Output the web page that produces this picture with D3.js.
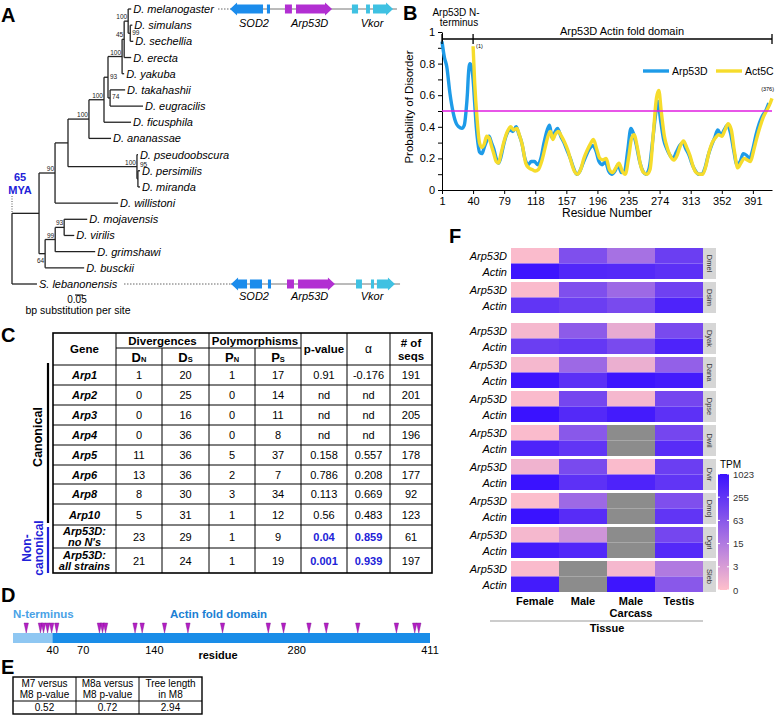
<!DOCTYPE html>
<html>
<head>
<meta charset="utf-8">
<script src="https://cdn.jsdelivr.net/npm/d3@7"></script>
<style>
  body { margin: 0; background: #fff; }
  text { font-family: "Liberation Sans", Arial, sans-serif; }
</style>
</head>
<body>
<svg id="fig" width="775" height="723"></svg>
<script>
// ---------- data ----------
// phylogeny: [id, parent, branch length (subst/site), bootstrap]
const treeNodes = [
  ["root", null, 0, ""],
  ["dros", "root", 0.169, ""],
  ["soph", "dros", 0.100, "90"],
  ["n68", "soph", 0.081, ""],
  ["melgrp", "n68", 0.131, "100"],
  ["n104", "melgrp", 0.094, "100"],
  ["n108", "n104", 0.025, "93"],
  ["n122", "n108", 0.088, "100"],
  ["n45", "n122", 0.013, "45"],
  ["n128", "n45", 0.025, "100"],
  ["D. melanogaster", "n128", 0.019, ""],
  ["n99", "n128", 0.013, "99"],
  ["D. simulans", "n99", 0.013, ""],
  ["D. sechellia", "n99", 0.019, ""],
  ["D. erecta", "n45", 0.044, ""],
  ["D. yakuba", "n122", 0.013, ""],
  ["n74", "n108", 0.013, "74"],
  ["D. takahashii", "n74", 0.094, ""],
  ["D. eugracilis", "n74", 0.206, ""],
  ["D. ficusphila", "n104", 0.169, ""],
  ["D. ananassae", "melgrp", 0.138, ""],
  ["obs", "n68", 0.431, "100"],
  ["D. pseudoobscura", "obs", 0.006, ""],
  ["n95", "obs", 0.006, "95"],
  ["D. persimilis", "n95", 0.013, ""],
  ["D. miranda", "n95", 0.013, ""],
  ["D. willistoni", "soph", 0.394, ""],
  ["n64", "dros", 0.038, "64"],
  ["n99b", "n64", 0.063, "99"],
  ["n93b", "n99b", 0.056, "93"],
  ["D. mojavensis", "n93b", 0.144, ""],
  ["D. virilis", "n93b", 0.063, ""],
  ["D. grimshawi", "n99b", 0.25, ""],
  ["D. busckii", "n64", 0.244, ""],
  ["S. lebanonensis", "root", 0.156, ""]
];
const supportSide = { n108: "r", n99: "r", n74: "r", n95: "ar", n64: "bl" };

// gene neighbourhood (kb), [start, end, gene, shape]
const melGenes = [
  [0.12, 2.06, "SOD2", "left"], [2.29, 2.47, "SOD2", "box"],
  [3.35, 3.76, "Arp53D", "box"], [4.0, 6.12, "Arp53D", "right"],
  [7.29, 7.65, "Vkor", "box"], [8.12, 8.35, "Vkor", "box"], [8.53, 9.71, "Vkor", "right"]
];
const lebGenes = [
  [0.18, 1.12, "SOD2", "left"], [1.29, 2.0, "SOD2", "box"], [2.35, 2.53, "SOD2", "box"],
  [3.47, 3.88, "Arp53D", "box"], [4.12, 6.29, "Arp53D", "right"],
  [7.53, 7.88, "Vkor", "box"], [8.41, 8.59, "Vkor", "box"], [8.76, 9.82, "Vkor", "right"]
];
const geneLabels = [["SOD2", 1.53], ["Arp53D", 4.8], ["Vkor", 8.47]];

// disorder probability [residue, value]
const arp53dDisorder = [[1,.94],[4,.84],[7,.78],[11,.61],[15,.49],[19,.42],[22,.40],[26,.39],[29,.41],[31,.49],[33,.62],[34,.72],[36,.80],[38,.78],[40,.70],[42,.55],[44,.40],[46,.30],[48,.24],[51,.23],[54,.27],[57,.31],[60,.34],[63,.30],[66,.26],[69,.20],[72,.17],[75,.21],[78,.28],[82,.35],[86,.38],[90,.37],[94,.40],[97,.36],[101,.30],[105,.20],[109,.16],[113,.18],[117,.18],[121,.16],[125,.20],[129,.30],[133,.38],[136,.41],[139,.33],[142,.36],[146,.39],[150,.34],[154,.30],[158,.25],[162,.20],[166,.14],[170,.10],[174,.12],[178,.17],[182,.22],[186,.26],[190,.28],[194,.25],[198,.18],[202,.16],[206,.18],[210,.12],[214,.10],[218,.12],[222,.16],[226,.11],[230,.12],[234,.25],[238,.39],[241,.36],[245,.28],[249,.18],[253,.12],[257,.10],[261,.14],[265,.30],[269,.48],[272,.56],[275,.45],[279,.32],[283,.26],[287,.22],[291,.20],[295,.24],[299,.28],[303,.30],[307,.26],[311,.22],[315,.16],[319,.12],[323,.10],[327,.10],[331,.14],[335,.22],[339,.28],[343,.33],[347,.38],[351,.35],[355,.38],[359,.41],[363,.36],[367,.25],[371,.16],[375,.18],[379,.23],[383,.22],[387,.20],[391,.26],[395,.35],[399,.42],[403,.47],[407,.50],[411,.55]];
const act5cDisorder = [[40,.91],[42,.68],[45,.45],[48,.30],[51,.27],[54,.29],[57,.34],[60,.33],[63,.28],[66,.23],[69,.18],[72,.17],[75,.23],[79,.31],[83,.37],[87,.40],[91,.38],[95,.39],[98,.35],[102,.28],[106,.17],[110,.14],[114,.13],[118,.12],[122,.13],[126,.18],[130,.26],[134,.34],[137,.37],[140,.32],[143,.35],[147,.37],[151,.34],[155,.30],[159,.25],[163,.18],[167,.12],[171,.10],[175,.13],[179,.20],[183,.25],[187,.29],[191,.32],[195,.26],[199,.20],[203,.19],[207,.20],[211,.13],[215,.11],[219,.14],[223,.17],[227,.12],[231,.10],[235,.20],[239,.33],[242,.35],[246,.27],[250,.16],[254,.11],[258,.10],[262,.13],[266,.35],[270,.58],[273,.63],[276,.50],[280,.34],[284,.26],[288,.21],[292,.19],[296,.22],[300,.28],[304,.31],[308,.27],[312,.22],[316,.15],[320,.11],[324,.10],[328,.10],[332,.15],[336,.24],[340,.30],[344,.33],[348,.35],[352,.34],[356,.38],[360,.42],[364,.38],[368,.24],[372,.14],[376,.17],[380,.20],[384,.19],[388,.18],[392,.25],[396,.33],[400,.40],[404,.46],[408,.50],[412,.54],[415,.58]];
const residueTicks = [1, 40, 79, 118, 157, 196, 235, 274, 313, 352, 391];

// McDonald-Kreitman table
const mkGenes = [["Arp1"],["Arp2"],["Arp3"],["Arp4"],["Arp5"],["Arp6"],["Arp8"],["Arp10"],["Arp53D:","no N's"],["Arp53D:","all strains"]];
const mkDN = [1, 0, 0, 0, 11, 13, 8, 5, 23, 21];
const mkDS = [20, 25, 16, 36, 36, 36, 30, 31, 29, 24];
const mkPN = [1, 0, 0, 0, 5, 2, 3, 1, 1, 1];
const mkPS = [17, 14, 11, 8, 37, 7, 34, 12, 9, 19];
const mkP = ["0.91", "nd", "nd", "nd", "0.158", "0.786", "0.113", "0.56", "0.04", "0.001"];
const mkAlpha = ["-0.176", "nd", "nd", "nd", "0.557", "0.208", "0.669", "0.483", "0.859", "0.939"];
const mkSeqs = [191, 201, 205, 196, 178, 177, 92, 123, 61, 197];

// selected sites along Arp53D (residue)
const selectedSites = [14, 28, 31, 35, 39, 44, 86, 89, 92, 121, 128, 150, 173, 207, 252, 267, 292, 309, 340, 378, 396, 400];
const domainTicks = [40, 70, 140, 280, 411];

// PAML
const pamlHeads = [["M7 versus", "M8 p-value"], ["M8a versus", "M8 p-value"], ["Tree length", "in M8"]];
const pamlVals = ["0.52", "0.72", "2.94"];

// expression (TPM), null = no data
const species = ["Dmel", "Dsim", "Dyak", "Dana", "Dpse", "Dwil", "Dvir", "Dmoj", "Dgri", "Sleb"];
const tissues = ["Female", "Male", "Male Carcass", "Testis"];
const arp53dTPM = [
  [0.2, 90, 22, 180], [0.2, 90, 31, 157], [0.4, 55, 1.3, 110], [0.4, 31, 1, 44], [0.2, 127, 0.4, 127],
  [0.2, 63, null, 127], [0.7, 110, 0.2, 180], [0.1, 31, null, 90], [0.4, 4.7, null, 127], [0.2, null, 0.4, 15]];
const actinTPM = [
  [890, 445, 415, 314], [255, 180, 110, 511], [180, 222, 110, 511], [890, 314, 890, 723], [1023, 415, 723, 293],
  [511, 255, null, 361], [1023, 293, 511, 255], [1023, 361, null, 255], [723, 445, null, 415], [723, null, 890, 63]];
const tpmTicks = [0, 3, 15, 63, 255, 1023];

// ---------- drawing ----------
const svg = d3.select("#fig");
const blue = "#2121d8";

function panelLetter(t, x, y) {
  svg.append("text").attr("x", x).attr("y", y).attr("font-size", 20).attr("font-weight", "bold").text(t);
}
panelLetter("A", 1, 22); panelLetter("B", 403, 20); panelLetter("C", 1, 342);
panelLetter("D", 1, 602); panelLetter("E", 1, 674); panelLetter("F", 449, 243);

// ===== A: tree =====
const root = d3.stratify().id(d => d[0]).parentId(d => d[1])(treeNodes);
const xT = d3.scaleLinear().domain([0, 1]).range([12, 172]);
const leaves = root.leaves();
const yT = d3.scalePoint().domain(leaves.map(d => d.id)).range([9, 284]);
root.eachBefore(n => { n.depthLen = n.parent ? n.parent.depthLen + n.data[2] : 0; n.px = xT(n.depthLen); });
root.eachAfter(n => {
  n.py = n.children ? (n.children[0].py + n.children[n.children.length - 1].py) / 2 : yT(n.id);
});
const gA = svg.append("g").attr("stroke", "#222").attr("stroke-width", 1.3);
root.each(n => {
  if (n.parent) gA.append("line").attr("x1", n.parent.px).attr("x2", n.px).attr("y1", n.py).attr("y2", n.py);
  if (n.children) gA.append("line").attr("x1", n.px).attr("x2", n.px)
    .attr("y1", n.children[0].py).attr("y2", n.children[n.children.length - 1].py);
});
leaves.forEach(n => {
  svg.append("text").attr("x", n.px + 2).attr("y", n.py + 4).attr("font-size", 11)
    .attr("font-style", "italic").text(n.id);
});
root.descendants().filter(n => n.data[3]).forEach(n => {
  const side = supportSide[n.id] || "al";
  const t = svg.append("text").attr("font-size", 6.5).attr("fill", "#222").text(n.data[3]);
  if (side === "al") t.attr("x", n.px - 1).attr("y", n.py - 2).attr("text-anchor", "end");
  if (side === "r") t.attr("x", n.px + 2).attr("y", n.py + 1.5);
  if (side === "ar") t.attr("x", n.px + 2).attr("y", n.py - 12);
  if (side === "bl") t.attr("x", n.px - 1).attr("y", n.py + 9).attr("text-anchor", "end");
});
// 65 MYA
const rootY = root.children[0].py;
svg.append("line").attr("x1", root.px).attr("x2", root.px).attr("y1", 196).attr("y2", rootY)
  .attr("stroke", "#555").attr("stroke-dasharray", "1,1.5");
svg.append("text").attr("x", 20).attr("y", 181).attr("text-anchor", "middle").attr("font-size", 11)
  .attr("font-weight", "bold").attr("fill", blue).text("65");
svg.append("text").attr("x", 20).attr("y", 194).attr("text-anchor", "middle").attr("font-size", 11)
  .attr("font-weight", "bold").attr("fill", blue).text("MYA");
// scale bar
svg.append("line").attr("x1", xT(0.4)).attr("x2", xT(0.45)).attr("y1", 295).attr("y2", 295)
  .attr("transform", `translate(${75 - xT(0.4)},0)`).attr("stroke", "#222").attr("stroke-width", 1.2);
svg.append("text").attr("x", 77).attr("y", 303).attr("text-anchor", "middle").attr("font-size", 10).text("0.05");
svg.append("text").attr("x", 78).attr("y", 314).attr("text-anchor", "middle").attr("font-size", 10.5).text("bp substitution per site");

// gene neighbourhoods
const geneColor = { SOD2: "#1b8cec", Arp53D: "#b22fd2", Vkor: "#3fc1e2" };
const xG = d3.scaleLinear().domain([0, 10]).range([228, 398]);
function drawLocus(genes, y, lineFrom, lineTo, dotFrom, labelY) {
  svg.append("line").attr("x1", dotFrom).attr("x2", xG(lineFrom)).attr("y1", y).attr("y2", y)
    .attr("stroke", "#666").attr("stroke-dasharray", "1.5,1.5");
  svg.append("line").attr("x1", xG(lineFrom)).attr("x2", xG(lineTo)).attr("y1", y).attr("y2", y).attr("stroke", "#777");
  genes.forEach(([s, e, g, shape]) => {
    const x0 = xG(s), x1 = xG(e), c = geneColor[g];
    if (shape === "box") {
      svg.append("rect").attr("x", x0).attr("y", y - 4.5).attr("width", x1 - x0).attr("height", 9).attr("fill", c);
    } else {
      const h = 7;
      const pts = shape === "right"
        ? [[x0, y - 4.5], [x1 - h, y - 4.5], [x1 - h, y - 6.5], [x1, y], [x1 - h, y + 6.5], [x1 - h, y + 4.5], [x0, y + 4.5]]
        : [[x1, y - 4.5], [x0 + h, y - 4.5], [x0 + h, y - 6.5], [x0, y], [x0 + h, y + 6.5], [x0 + h, y + 4.5], [x1, y + 4.5]];
      svg.append("polygon").attr("points", pts.map(p => p.join(",")).join(" ")).attr("fill", c);
    }
  });
  geneLabels.forEach(([g, c]) => {
    svg.append("text").attr("x", xG(c)).attr("y", labelY).attr("text-anchor", "middle")
      .attr("font-size", 11).attr("font-style", "italic").text(g);
  });
}
drawLocus(melGenes, yT("D. melanogaster"), 0.12, 9.94, 218, 27);
drawLocus(lebGenes, yT("S. lebanonensis"), 0.18, 10.12, 124, 300);

// ===== B: disorder =====
const xB = d3.scaleLinear().domain([1, 415]).range([442, 772]);
const yB = d3.scaleLinear().domain([0, 1]).range([190, 32]);
const gB = svg.append("g");
const yAx = gB.append("g").attr("transform", "translate(442,0)")
  .call(d3.axisLeft(yB).tickValues(d3.range(0, 11).map(i => i / 10)).tickSize(4).tickSizeOuter(0)
    .tickFormat(d => Math.round(d * 10) % 2 === 0 ? d3.format("~g")(d) : ""));
const xAx = gB.append("g").attr("transform", "translate(0,190)")
  .call(d3.axisBottom(xB).tickValues(residueTicks).tickSize(4).tickSizeOuter(0));
[yAx, xAx].forEach(a => {
  a.selectAll("text").attr("font-size", 11).attr("fill", "#000").style("font-family", '"Liberation Sans", Arial, sans-serif');
  a.selectAll("line,path").attr("stroke", "#000");
});
gB.append("text").attr("x", 607).attr("y", 217).attr("text-anchor", "middle").attr("font-size", 12).text("Residue Number");
gB.append("text").attr("transform", "translate(413,107) rotate(-90)").attr("text-anchor", "middle")
  .attr("font-size", 11.5).text("Probability of Disorder");
const lineB = d3.line().x(d => xB(d[0])).y(d => yB(d[1])).curve(d3.curveMonotoneX);
gB.append("path").datum(arp53dDisorder).attr("d", lineB).attr("fill", "none")
  .attr("stroke", "#1e9be8").attr("stroke-width", 3.4).attr("stroke-linejoin", "round");
gB.append("path").datum(act5cDisorder).attr("d", lineB).attr("fill", "none")
  .attr("stroke", "#f6dc2c").attr("stroke-width", 3.4).attr("stroke-linejoin", "round");
gB.append("line").attr("x1", xB(1)).attr("x2", xB(415)).attr("y1", yB(0.5)).attr("y2", yB(0.5))
  .attr("stroke", "#e01ee0").attr("stroke-width", 1.5);
// domain brackets
gB.append("line").attr("x1", xB(1)).attr("x2", xB(415)).attr("y1", 39).attr("y2", 39).attr("stroke", "#000").attr("stroke-width", 1.3);
[1, 40, 415].forEach(r => gB.append("line").attr("x1", xB(r)).attr("x2", xB(r)).attr("y1", 34).attr("y2", 44)
  .attr("stroke", "#000").attr("stroke-width", 1.3));
gB.append("text").attr("x", 456).attr("y", 16).attr("text-anchor", "middle").attr("font-size", 10).text("Arp53D N-");
gB.append("text").attr("x", 459).attr("y", 26).attr("text-anchor", "middle").attr("font-size", 10).text("terminus");
gB.append("text").attr("x", 622).attr("y", 35).attr("text-anchor", "middle").attr("font-size", 11).text("Arp53D Actin fold domain");
gB.append("text").attr("x", xB(40) + 3).attr("y", 48).attr("font-size", 5.5).text("(1)");
gB.append("text").attr("x", 774).attr("y", 91).attr("text-anchor", "end").attr("font-size", 5.5).text("(376)");
// legend
[["Arp53D", "#1e9be8", 643], ["Act5C", "#f6dc2c", 716]].forEach(([n, c, x]) => {
  gB.append("line").attr("x1", x).attr("x2", x + 26).attr("y1", 71).attr("y2", 71).attr("stroke", c).attr("stroke-width", 3.4);
  gB.append("text").attr("x", x + 29).attr("y", 75).attr("font-size", 10.5).text(n);
});

// ===== C: MK table =====
const colX = [53, 116, 162, 209, 255, 301, 347, 390, 432];
const rowY = [365, 385, 405, 425, 445, 465, 484, 504, 525, 548, 573];
const tW = colX[colX.length - 1];
const gC = svg.append("g");
const cx = i => (colX[i] + colX[i + 1]) / 2;
const tLine = (x1, y1, x2, y2, w) => gC.append("line").attr("x1", x1).attr("y1", y1).attr("x2", x2).attr("y2", y2)
  .attr("stroke", "#000").attr("stroke-width", w || 1);
gC.append("rect").attr("x", 53).attr("y", 333).attr("width", tW - 53).attr("height", 240)
  .attr("fill", "none").attr("stroke", "#000").attr("stroke-width", 1.6);
tLine(colX[1], 348, colX[5], 348);
rowY.slice(0, -1).forEach(y => tLine(53, y, tW, y));
[1, 3, 5, 6, 7].forEach(i => tLine(colX[i], 333, colX[i], 573));
[2, 4].forEach(i => tLine(colX[i], 348, colX[i], 573));
const hText = (x, y, s, size) => gC.append("text").attr("x", x).attr("y", y).attr("text-anchor", "middle")
  .attr("font-size", size || 11.5).attr("font-weight", "bold").text(s);
hText(cx(0), 353, "Gene");
hText((colX[1] + colX[3]) / 2, 345, "Divergences");
hText((colX[3] + colX[5]) / 2, 345, "Polymorphisms");
hText(cx(5), 353, "p-value");
gC.append("text").attr("x", cx(6)).attr("y", 353).attr("text-anchor", "middle").attr("font-size", 12).text("\u03b1");
hText(cx(7), 347, "# of"); hText(cx(7), 360, "seqs");
[["D", "N", 1], ["D", "S", 2], ["P", "N", 3], ["P", "S", 4]].forEach(([a, b, i]) => {
  const t = gC.append("text").attr("x", cx(i)).attr("y", 362).attr("text-anchor", "middle").attr("font-weight", "bold");
  t.append("tspan").attr("font-size", 13).text(a);
  t.append("tspan").attr("font-size", 7.5).text(b);
});
mkGenes.forEach((g, r) => {
  const yc = (rowY[r] + rowY[r + 1]) / 2;
  g.forEach((s, k) => {
    gC.append("text").attr("x", cx(0)).attr("y", yc + 4 + (g.length === 2 ? (k === 0 ? -5.5 : 5.5) : 0))
      .attr("text-anchor", "middle").attr("font-size", 11).attr("font-weight", "bold").attr("font-style", "italic").text(s);
  });
  const vals = [mkDN[r], mkDS[r], mkPN[r], mkPS[r], mkP[r], mkAlpha[r], mkSeqs[r]];
  vals.forEach((v, i) => {
    const hi = r >= 8 && (i === 4 || i === 5);
    gC.append("text").attr("x", cx(i + 1)).attr("y", yc + 4).attr("text-anchor", "middle").attr("font-size", 11)
      .attr("font-weight", hi ? "bold" : "normal").attr("fill", hi ? blue : "#000").text(v);
  });
});
gC.append("line").attr("x1", 48).attr("x2", 48).attr("y1", 363).attr("y2", 523).attr("stroke", "#000").attr("stroke-width", 2.2);
gC.append("line").attr("x1", 48).attr("x2", 48).attr("y1", 527).attr("y2", 573).attr("stroke", blue).attr("stroke-width", 2.2);
gC.append("text").attr("transform", "translate(42,437) rotate(-90)").attr("text-anchor", "middle")
  .attr("font-size", 12.5).attr("font-weight", "bold").text("Canonical");
gC.append("text").attr("transform", "translate(31,548) rotate(-90)").attr("text-anchor", "middle")
  .attr("font-size", 12).attr("font-weight", "bold").attr("fill", blue).text("Non-");
gC.append("text").attr("transform", "translate(43,548) rotate(-90)").attr("text-anchor", "middle")
  .attr("font-size", 12).attr("font-weight", "bold").attr("fill", blue).text("canonical");

// ===== D: domain map =====
const xD = d3.scaleLinear().domain([1, 411]).range([13, 430]);
const gD = svg.append("g");
gD.append("text").attr("x", 13).attr("y", 618).attr("font-size", 11.5).attr("font-weight", "bold").attr("fill", "#4aa2e6").text("N-terminus");
gD.append("text").attr("x", 170).attr("y", 618).attr("font-size", 11.5).attr("font-weight", "bold").attr("fill", "#1a7fd4").text("Actin fold domain");
gD.append("rect").attr("x", xD(1)).attr("y", 633).attr("width", xD(411) - xD(1)).attr("height", 10).attr("fill", "#1a8de8");
gD.append("rect").attr("x", xD(1)).attr("y", 633).attr("width", xD(40) - xD(1)).attr("height", 10).attr("fill", "#8fc7f2");
selectedSites.forEach(r => {
  const x = xD(r);
  gD.append("polygon").attr("points", `${x - 2.2},623 ${x + 2.2},623 ${x},633`).attr("fill", "#b41fc4").attr("stroke", "#7a1090").attr("stroke-width", 0.4);
});
domainTicks.forEach(r => gD.append("text").attr("x", xD(r)).attr("y", 654).attr("text-anchor", "middle").attr("font-size", 11).text(r));
gD.append("text").attr("x", 218).attr("y", 659).attr("text-anchor", "middle").attr("font-size", 11).attr("font-weight", "bold").text("residue");

// ===== E: PAML table =====
const eX = [13, 76, 139, 202];
const eTop = 677, eMid = 701, eBot = 714;
const gE = svg.append("g");
gE.append("rect").attr("x", eX[0]).attr("y", eTop).attr("width", eX[3] - eX[0]).attr("height", eBot - eTop)
  .attr("fill", "none").attr("stroke", "#000").attr("stroke-width", 1.4);
gE.append("line").attr("x1", eX[0]).attr("x2", eX[3]).attr("y1", eMid).attr("y2", eMid).attr("stroke", "#000");
[eX[1], eX[2]].forEach(x => gE.append("line").attr("x1", x).attr("x2", x).attr("y1", eTop).attr("y2", eBot).attr("stroke", "#000"));
pamlHeads.forEach((h, i) => h.forEach((s, k) => gE.append("text").attr("x", (eX[i] + eX[i + 1]) / 2).attr("y", eTop + 10 + k * 10.5)
  .attr("text-anchor", "middle").attr("font-size", 10).text(s)));
pamlVals.forEach((v, i) => gE.append("text").attr("x", (eX[i] + eX[i + 1]) / 2).attr("y", eBot - 3)
  .attr("text-anchor", "middle").attr("font-size", 10).text(v));

// ===== F: expression heatmap =====
const gF = svg.append("g");
const xF = d3.scaleBand().domain(tissues).range([511, 703]);
const yBlock = d3.scaleLinear().domain([0, 1]).range([248, 282]);
const blockTop = i => yBlock(i) + (i >= 2 ? 7 : 0);
const rowH = 15.5;
const color = d3.scaleLinear().domain([0, 10]).range(["#ffc0cb", "#3a12ff"]).interpolate(d3.interpolateRgb);
const tpmCol = v => v == null ? "#8c8c8c" : color(Math.log2(v + 1));
species.forEach((sp, i) => {
  const top = blockTop(i);
  [["Arp53D", arp53dTPM[i]], ["Actin", actinTPM[i]]].forEach(([g, vals], k) => {
    vals.forEach((v, j) => gF.append("rect").attr("x", xF(tissues[j])).attr("y", top + k * rowH)
      .attr("width", xF.bandwidth()).attr("height", rowH).attr("fill", tpmCol(v)));
    gF.append("text").attr("x", 507).attr("y", top + k * rowH + 12).attr("text-anchor", "end")
      .attr("font-size", 11).attr("font-style", "italic").text(g);
  });
  gF.append("rect").attr("x", 703).attr("y", top).attr("width", 13).attr("height", rowH * 2).attr("fill", "#d6d6d6");
  gF.append("text").attr("transform", `translate(707,${top + rowH}) rotate(90)`).attr("text-anchor", "middle")
    .attr("font-size", 7.5).attr("fill", "#333").text(sp);
});
const fBottom = blockTop(species.length - 1) + rowH * 2;
tissues.forEach(t => {
  const parts = t.split(" ");
  parts.forEach((p, k) => gF.append("text").attr("x", xF(t) + xF.bandwidth() / 2).attr("y", fBottom + 13 + k * 12)
    .attr("text-anchor", "middle").attr("font-size", 11).attr("font-weight", "bold").text(p));
});
gF.append("line").attr("x1", 490).attr("x2", 703).attr("y1", fBottom + 29).attr("y2", fBottom + 29).attr("stroke", "#999");
gF.append("text").attr("x", 607).attr("y", fBottom + 40).attr("text-anchor", "middle").attr("font-size", 11).attr("font-weight", "bold").text("Tissue");
// legend
const defs = svg.append("defs");
const grad = defs.append("linearGradient").attr("id", "tpmgrad").attr("x1", 0).attr("x2", 0).attr("y1", 1).attr("y2", 0);
d3.range(0, 11).forEach(k => grad.append("stop").attr("offset", k / 10).attr("stop-color", color(k)));
const yL = d3.scaleLinear().domain([0, 10]).range([fBottom - 2, 474]);
gF.append("text").attr("x", 720).attr("y", 468).attr("font-size", 10).text("TPM");
gF.append("rect").attr("x", 718).attr("y", yL(10)).attr("width", 11).attr("height", yL(0) - yL(10)).attr("fill", "url(#tpmgrad)");
tpmTicks.forEach(v => {
  const y = yL(Math.log2(v + 1));
  gF.append("line").attr("x1", 718).attr("x2", 720).attr("y1", y).attr("y2", y).attr("stroke", "#fff");
  gF.append("line").attr("x1", 727).attr("x2", 729).attr("y1", y).attr("y2", y).attr("stroke", "#fff");
  gF.append("text").attr("x", 733).attr("y", y + 3.5).attr("font-size", 9.5).attr("fill", "#333").text(v);
});
</script>
</body>
</html>
